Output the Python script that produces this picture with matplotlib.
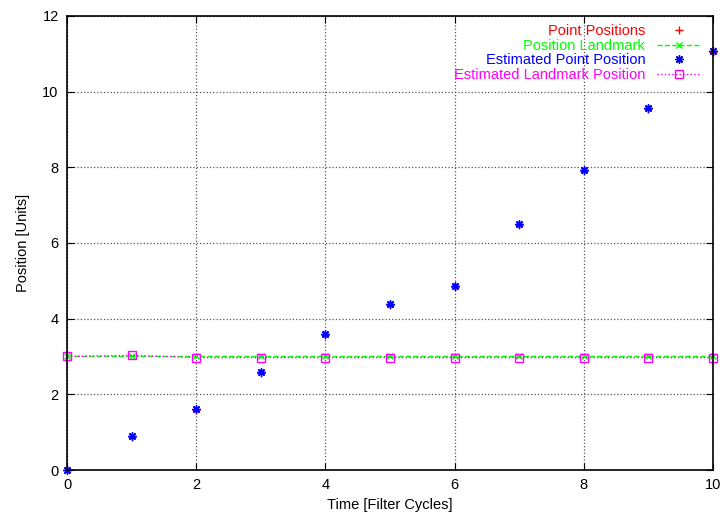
import matplotlib
matplotlib.use("Agg")
import matplotlib.pyplot as plt

plt.rcParams['font.family'] = ['Liberation Sans', 'DejaVu Sans']

cycles = [0, 1, 2, 3, 4, 5, 6, 7, 8, 9, 10]
point_pos = [0.0, 0.87, 1.58, 2.56, 3.57, 4.36, 4.83, 6.48, 7.91, 9.55, 11.06]
landmark_pos = [3.0] * 11
est_point = [0.0, 0.90, 1.61, 2.59, 3.60, 4.39, 4.86, 6.50, 7.93, 9.57, 11.08]
est_landmark = [3.0, 3.03, 2.97, 2.97, 2.97, 2.97, 2.97, 2.97, 2.97, 2.97, 2.97]

fig = plt.figure(figsize=(7.22, 5.14), dpi=100)
ax = fig.add_axes([0.0928, 0.0856, 0.8947, 0.8833])

ax.plot(cycles, point_pos, linestyle='none', marker='+', color='red',
        markersize=6, label='Point Positions', clip_on=False)
ax.plot(cycles, landmark_pos, linestyle='--', marker='x', color='#00ff00',
        markersize=5, linewidth=1, label='Position Landmark', clip_on=False)
ax.plot(cycles, est_point, linestyle='none', marker=(8, 2, 0), color='blue',
        markersize=6, label='Estimated Point Position', clip_on=False)
ax.plot(cycles, est_landmark, linestyle=':', marker='s', color='magenta',
        markerfacecolor='none', markersize=6, linewidth=1,
        label='Estimated Landmark Position', clip_on=False)

ax.set_xlim(0, 10)
ax.set_ylim(0, 12)
ax.set_xticks(range(0, 11, 2))
ax.set_yticks(range(0, 13, 2))
ax.tick_params(direction='in', top=True, right=True, length=5, labelsize=10.5, pad=6)
ax.grid(True, linestyle=':', color='#555555', linewidth=0.9)
for s in ax.spines.values():
    s.set_linewidth(1.2)

ax.set_xlabel('Time [Filter Cycles]', fontsize=10.5, labelpad=4)
ax.set_ylabel('Position [Units]', fontsize=10.5, labelpad=9)

ax.legend(loc='upper right', bbox_to_anchor=(0.999, 1.008), frameon=False,
          markerfirst=False, labelcolor=['red', '#00ff00', 'blue', 'magenta'],
          fontsize=10.5, handlelength=3, handletextpad=0.8, labelspacing=0.05,
          borderpad=0.3)

fig.savefig('out.png', dpi=100)
